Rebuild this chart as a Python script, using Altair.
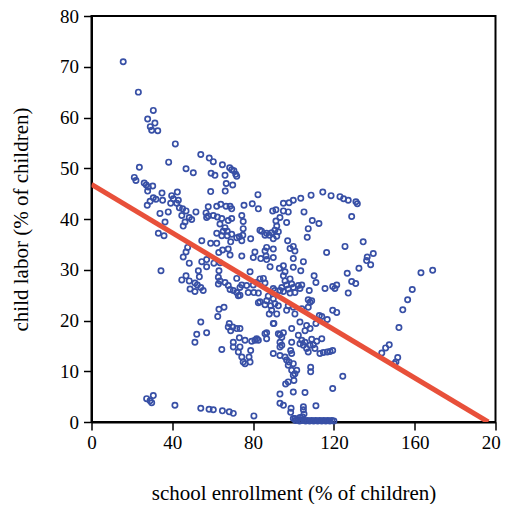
import altair as alt
import pandas as pd

# school enrollment (% of children)
enroll = [
 15.7,23.2,30.6,27.8,31.4,29.1,29.8,32.8,41.5,
 54.1,58.3,60.3,38.2,23.7,46.8,50.4,64.8,
 68.4,69.4,70.5,71.9,71.4,
 59.2,61.1,66.1,66.7,69.9,59.0,66.2,82.4,
 21.2,22.0,26.1,27.1,30.3,28.1,27.8,
 34.9,42.5,39.7,
 30.6,31.9,29.0,27.6,35.2,
 40.5,43.0,39.2,42.2,43.5,45.1,
 38.0,33.9,46.8,51.7,
 44.7,48.4,49.6,46.3,45.4,36.4,
 33.1,35.9,
 57.8,62.0,64.0,66.6,68.6,69.4,
 56.7,57.8,60.3,62.3,57.0,
 64.5,67.7,69.4,
 63.6,66.1,67.2,65.2,
 62.0,64.5,67.2,69.4,71.9,68.9,
 54.6,59.0,62.0,73.2,
 47.6,46.8,45.4,48.4,34.4,
 54.6,57.0,57.0,60.6,
 63.0,64.9,67.7,68.6,63.6,63.1,
 52.9,53.4,46.8,44.7,48.4,
 51.2,52.4,54.1,55.3,51.2,48.8,
 62.8,63.6,62.8,66.1,67.7,68.6,70.2,71.9,72.7,71.9,
 65.6,63.1,62.5,54.1,
 68.2,67.7,69.9,68.9,71.9,
 52.1,57.0,51.2,
 27.3,29.0,29.8,30.6,41.3,
 54.1,58.2,60.3,64.8,68.2,70.2,80.4,
 64.5,73.5,
 70.2,70.2,73.5,72.7,74.4,75.1,76.0,78.5,78.0,78.8,73.2,76.0,79.3,80.9,82.6,81.8,85.9,86.7,90.3,
 90.0,93.3,95.8,
 92.5,94.2,93.3,94.2,93.3,
 99.1,97.8,99.9,97.4,99.1,99.9,97.4,99.9,96.1,93.3,93.3,95.0,98.8,99.9,
 98.6,96.6,101.6,100.7,100.2,108.5,108.5,105.7,119.4,111.1,104.9,104.9,98.6,100.7,103.2,
 102.4,104.1,105.7,104.9,106.5,108.2,109.8,111.5,109.0,114.0,103.2,107.3,110.6,113.1,114.8,116.7,118.1,119.4,
 124.4,99.1,
 101,102,103,104,105,106,107,108,109,110,111,112,113,114,115,116,117,118,119,120,104.5,105.2,
 75.5,79.6,82.6,
 74.4,75.1,75.1,74.9,74.4,78.8,
 89.7,91.3,95.0,97.4,95.0,97.8,99.9,103.6,108.7,114.5,118.6,123.0,
 105.2,
 93.3,91.3,91.7,90.8,89.2,91.7,90.0,88.0,86.7,84.2,83.4,85.9,96.6,92.5,
 109.3,112.6,107.3,106.8,97.1,
 124.8,127.1,130.9,131.6,128.8,
 80.9,85.9,86.7,90.0,98.3,100.7,99.9,116.4,
 80.1,83.8,86.4,86.7,90.0,99.9,74.4,
 88.4,93.0,95.0,95.8,95.0,99.9,104.9,103.6,110.2,111.1,
 78.5,85.1,83.4,81.8,85.9,80.1,76.8,74.4,77.6,80.4,82.6,
 95.8,98.3,99.1,96.6,94.2,93.3,95.0,97.4,99.9,102.4,103.2,100.7,98.3,104.1,
 90.0,90.8,107.8,
 115.6,119.4,121.4,120.5,
 87.5,86.7,90.0,85.9,88.7,90.8,92.5,89.2,91.7,88.0,83.4,82.6,
 97.4,99.9,96.6,100.7,104.1,107.3,108.2,107.3,109.0,
 112.8,114.0,116.7,111.1,119.4,121.4,
 90.0,99.1,103.2,106.5,105.7,108.2,86.7,93.3,95.0,
 73.5,73.5,
 125.5,134.5,136.5,139.5,136.2,138.2,132.4,126.6,128.8,130.8,127.1,
 168.9,163.1,158.8,156.5,154.1,152.2,147.4,145.6,143.7,151.6,150.7,149.9,
]

# child labor (% of children)
labor = [
 71.0,65.0,61.4,59.7,58.9,58.2,57.5,57.4,54.8,
 52.7,52.0,51.3,51.2,50.2,49.9,49.1,50.7,
 50.1,49.7,49.5,48.4,48.8,
 49.0,48.6,48.6,47.0,46.7,45.4,45.5,44.8,
 48.2,47.6,47.1,46.7,46.5,46.3,45.5,
 45.1,45.3,44.6,
 44.2,43.9,43.5,42.7,43.7,
 44.0,43.7,43.1,43.1,42.2,42.0,
 41.4,41.1,41.6,41.4,
 40.7,40.3,39.9,39.4,38.6,39.4,
 37.2,36.7,
 42.4,42.5,42.9,42.5,42.5,42.0,
 41.2,40.6,40.7,40.4,40.3,
 40.1,39.7,40.1,
 39.0,38.3,37.6,37.6,
 37.2,36.7,36.7,37.0,36.3,35.5,
 35.7,35.2,35.2,36.5,
 34.4,33.5,32.5,31.3,29.8,
 31.6,32.0,30.6,31.3,
 33.4,33.9,34.1,32.9,31.4,29.8,
 29.8,28.6,28.8,28.0,27.8,
 27.4,27.0,26.5,25.9,25.7,26.2,
 28.5,27.8,27.2,27.5,26.9,26.1,25.9,25.5,24.9,28.3,
 22.6,22.2,20.8,19.7,
 19.4,18.7,18.7,18.0,18.4,
 17.3,17.6,15.7,
 4.6,4.2,3.8,5.2,3.3,
 2.7,2.5,2.4,2.2,2.0,1.7,1.2,
 14.3,18.4,
 15.7,14.8,14.8,13.8,12.8,11.8,11.5,11.8,12.8,14.1,16.6,16.1,15.9,16.1,16.1,16.4,17.4,16.4,19.4,
 13.5,13.1,12.8,
 17.4,16.7,15.7,15.1,14.8,
 13.5,11.8,11.5,11.2,10.2,9.2,7.9,5.9,7.5,5.5,3.7,3.3,2.7,0.7,
 14.1,12.2,10.2,9.5,8.2,10.8,9.9,5.8,6.6,3.2,3.0,2.4,1.9,0.7,0.9,
 17.1,16.1,15.7,15.1,14.5,15.1,15.2,15.9,16.3,16.4,15.4,13.8,14.5,13.5,13.7,13.8,13.9,14.1,
 9.0,15.7,
 0.3,0.5,0.2,0.3,0.4,0.2,0.3,0.2,0.3,0.2,0.3,0.2,0.3,0.2,0.3,0.2,0.3,0.2,0.3,0.2,1.0,1.6,
 42.7,43.0,42.0,
 40.7,39.5,38.1,36.8,35.7,36.1,
 41.6,41.8,41.6,41.4,43.1,43.2,43.7,44.1,44.7,45.3,44.6,44.4,
 41.4,
 40.3,39.6,38.6,37.8,37.3,36.6,36.1,36.8,37.2,37.6,37.8,36.8,39.3,37.5,
 39.7,39.1,38.1,36.4,35.7,
 44.0,43.7,43.4,43.0,40.5,
 33.5,33.7,34.4,34.1,34.2,33.7,34.6,33.4,
 32.4,32.2,32.7,32.0,32.4,32.2,32.7,
 30.6,30.3,30.8,29.6,28.8,30.5,31.6,29.8,28.8,27.5,
 29.6,28.3,28.2,27.5,27.4,27.0,26.9,27.0,25.5,25.5,25.4,
 27.8,28.2,27.2,27.0,26.5,25.9,25.7,26.2,26.5,26.9,26.3,25.5,25.4,27.0,
 26.3,25.9,25.9,
 26.3,26.7,27.0,26.3,
 24.8,23.9,24.3,23.1,22.9,23.3,22.9,22.0,21.3,21.3,23.7,23.5,
 22.9,22.6,22.0,21.3,22.3,22.6,23.6,24.1,23.9,
 21.0,20.8,20.2,19.4,22.0,21.6,
 19.4,18.4,19.7,19.0,18.0,18.4,17.6,17.2,17.6,
 26.5,25.0,
 34.6,35.5,32.5,33.2,31.8,31.0,30.3,29.3,27.7,27.3,25.4,
 29.9,29.4,26.1,24.1,22.1,18.6,15.2,14.6,13.6,12.7,11.8,11.5,
]

# fitted regression line end points
fit_x = [0, 196.4]
fit_y = [46.8, 0]

n = min(len(enroll), len(labor))
pts = pd.DataFrame({"enroll": enroll[:n], "labor": labor[:n]})
fit = pd.DataFrame({"enroll": fit_x, "labor": fit_y})

FONT = "Liberation Serif"

xscale = alt.Scale(domain=[0, 200], nice=False, zero=False)
yscale = alt.Scale(domain=[0, 80], nice=False, zero=False)

xaxis = alt.Axis(values=[0, 40, 80, 120, 160, 200], title="school enrollment (% of children)",
                 tickSize=8, tickWidth=1.5, tickColor="black", domainColor="black", domainWidth=2,
                 labelFont=FONT, labelFontSize=19, labelColor="black", labelPadding=3,
                 titleFont=FONT, titleFontSize=21, titleFontWeight="normal", titleColor="black",
                 titlePadding=30, grid=False, labelFlush=False)
yaxis = alt.Axis(values=list(range(0, 81, 10)), title="child labor (% of children)",
                 tickSize=8, tickWidth=1.5, tickColor="black", domainColor="black", domainWidth=2,
                 labelFont=FONT, labelFontSize=19, labelColor="black", labelPadding=5,
                 titleFont=FONT, titleFontSize=21, titleFontWeight="normal", titleColor="black",
                 titlePadding=28, grid=False, labelFlush=False)

points = alt.Chart(pts).mark_point(shape="circle", filled=False, size=28, strokeWidth=1.7,
                                   color="#3850a6", opacity=1).encode(
    x=alt.X("enroll:Q", scale=xscale, axis=xaxis),
    y=alt.Y("labor:Q", scale=yscale, axis=yaxis),
)

line = alt.Chart(fit).mark_line(color="#e8503a", strokeWidth=5, clip=True).encode(
    x=alt.X("enroll:Q", scale=xscale),
    y=alt.Y("labor:Q", scale=yscale),
)

chart = alt.layer(points, line).properties(
    width=404, height=406,
    autosize=alt.AutoSizeParams(type="none"),
    padding={"left": 83.5, "top": 8, "right": 5.5, "bottom": 82},
    background="white",
).configure_view(stroke="black", strokeWidth=2)

chart.save("out.html", embed_options={"renderer": "svg", "actions": False})
